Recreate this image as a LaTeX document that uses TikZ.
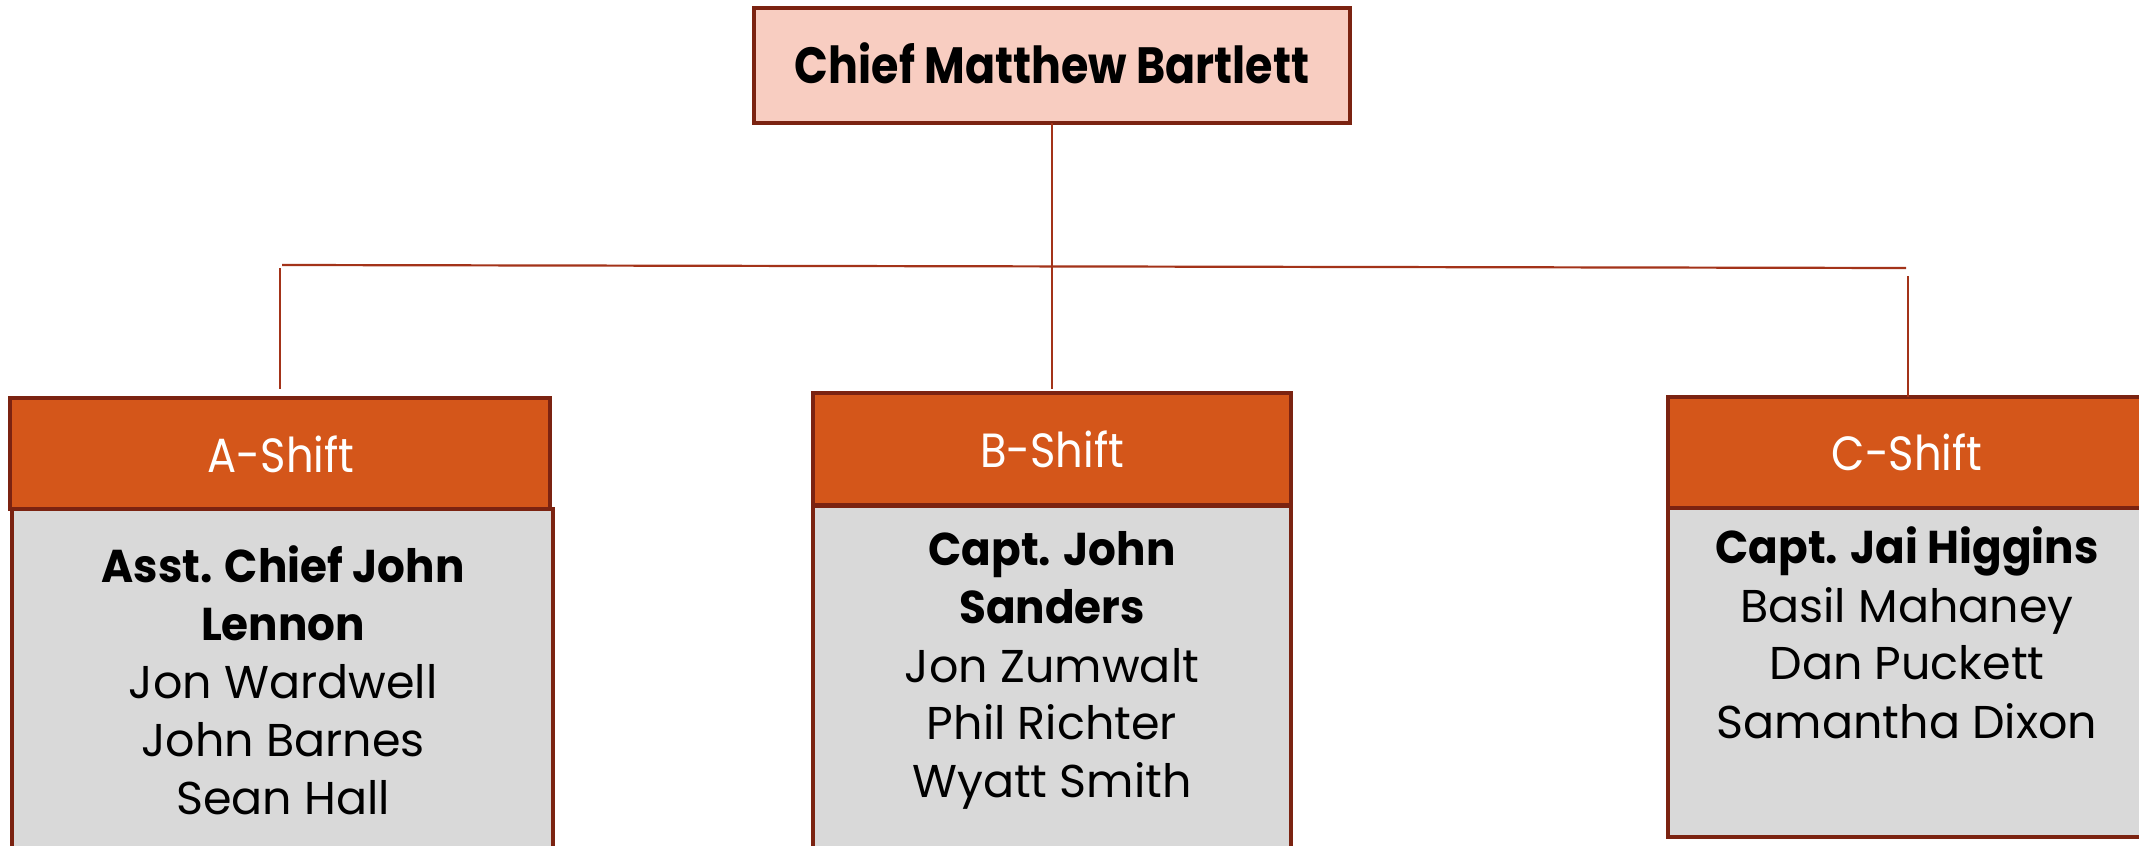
\documentclass[tikz,border=0pt]{standalone}
\usepackage{fontspec}
\setmainfont{Poppins}
\newfontfamily\titlefont[FakeStretch=0.87]{Poppins}
\newfontfamily\headfont[FakeStretch=0.9]{Poppins}
\newfontfamily\boldbodyfont[FakeStretch=0.95]{Poppins}
\definecolor{bordc}{HTML}{7B2311}
\definecolor{connc}{HTML}{A33319}
\definecolor{pinkc}{HTML}{F8CDC1}
\definecolor{orangec}{HTML}{D4561A}
\definecolor{grayc}{HTML}{D9D9D9}
\begin{document}
\begin{tikzpicture}[x=0.5pt,y=-0.5pt,
  box/.style={rectangle, draw=bordc, line width=1.9pt, inner sep=0pt, outer sep=0pt, anchor=north west},
  topbox/.style={box, fill=pinkc},
  headbox/.style={box, fill=orangec},
  bodybox/.style={box, fill=grayc},
  conn/.style={draw=connc, line width=1.1pt},
  titletxt/.style={anchor=base, inner sep=0pt, font=\titlefont\fontsize{25.5}{30}\selectfont\bfseries},
  headtxt/.style={anchor=base, inner sep=0pt, text=white, font=\headfont\fontsize{24}{29}\selectfont},
  bodytxt/.style={anchor=base, inner sep=0pt, font=\fontsize{23}{29}\selectfont},
  boldtxt/.style={anchor=base, inner sep=0pt, font=\boldbodyfont\fontsize{23}{29}\selectfont\bfseries}
]
\useasboundingbox (0,0) rectangle (2139,845);

% boxes
\node[topbox, minimum width=298pt, minimum height=57.5pt] (top) at (754,8) {};
\node[bodybox, minimum width=270.5pt, minimum height=170pt] (abody) at (12,509) {};
\node[headbox, minimum width=270pt, minimum height=55.5pt] (ahead) at (10,398) {};
\node[bodybox, minimum width=239pt, minimum height=172.5pt] (bbody) at (813,506) {};
\node[headbox, minimum width=239pt, minimum height=56pt] (bhead) at (813,393) {};
\node[bodybox, minimum width=270pt, minimum height=164.5pt] (cbody) at (1668,508) {};
\node[headbox, minimum width=270pt, minimum height=55.5pt] (chead) at (1668,397) {};

% connectors
\coordinate (hl) at (282,265);
\coordinate (hr) at (1906,268);
\coordinate (al) at (280,268);
\coordinate (cr) at (1908,276);
\draw[conn, shorten >=2pt] (top.south) -- (top.south |- bhead.north);
\draw[conn] (hl) -- (hr);
\draw[conn, shorten >=4.5pt] (al) -- (al |- ahead.north);
\draw[conn] (cr) -- (cr |- chead.north);

% texts
\node[titletxt] (t0) at (1052,84) {Chief Matthew Bartlett};
\node[headtxt] (ah) at (281,472) {A-Shift};
\node[headtxt] (bh) at (1052,467) {B-Shift};
\node[headtxt] (ch) at (1907,470) {C-Shift};

\node[boldtxt] (a1) at (283,582) {Asst. Chief John};
\node[boldtxt] (a2) at (283,640) {Lennon};
\node[bodytxt] (a3) at (283,698) {Jon Wardwell};
\node[bodytxt] (a4) at (283,756) {John Barnes};
\node[bodytxt] (a5) at (283,814) {Sean Hall};

\node[boldtxt] (b1) at (1052,565) {Capt. John};
\node[boldtxt] (b2) at (1052,623) {Sanders};
\node[bodytxt] (b3) at (1052,682) {Jon Zumwalt};
\node[bodytxt] (b4) at (1052,739) {Phil Richter};
\node[bodytxt] (b5) at (1052,797) {Wyatt Smith};

\node[boldtxt] (c1) at (1907,563) {Capt. Jai Higgins};
\node[bodytxt] (c2) at (1907,622) {Basil Mahaney};
\node[bodytxt] (c3) at (1907,679) {Dan Puckett};
\node[bodytxt] (c4) at (1907,738) {Samantha Dixon};
\end{tikzpicture}
\end{document}
